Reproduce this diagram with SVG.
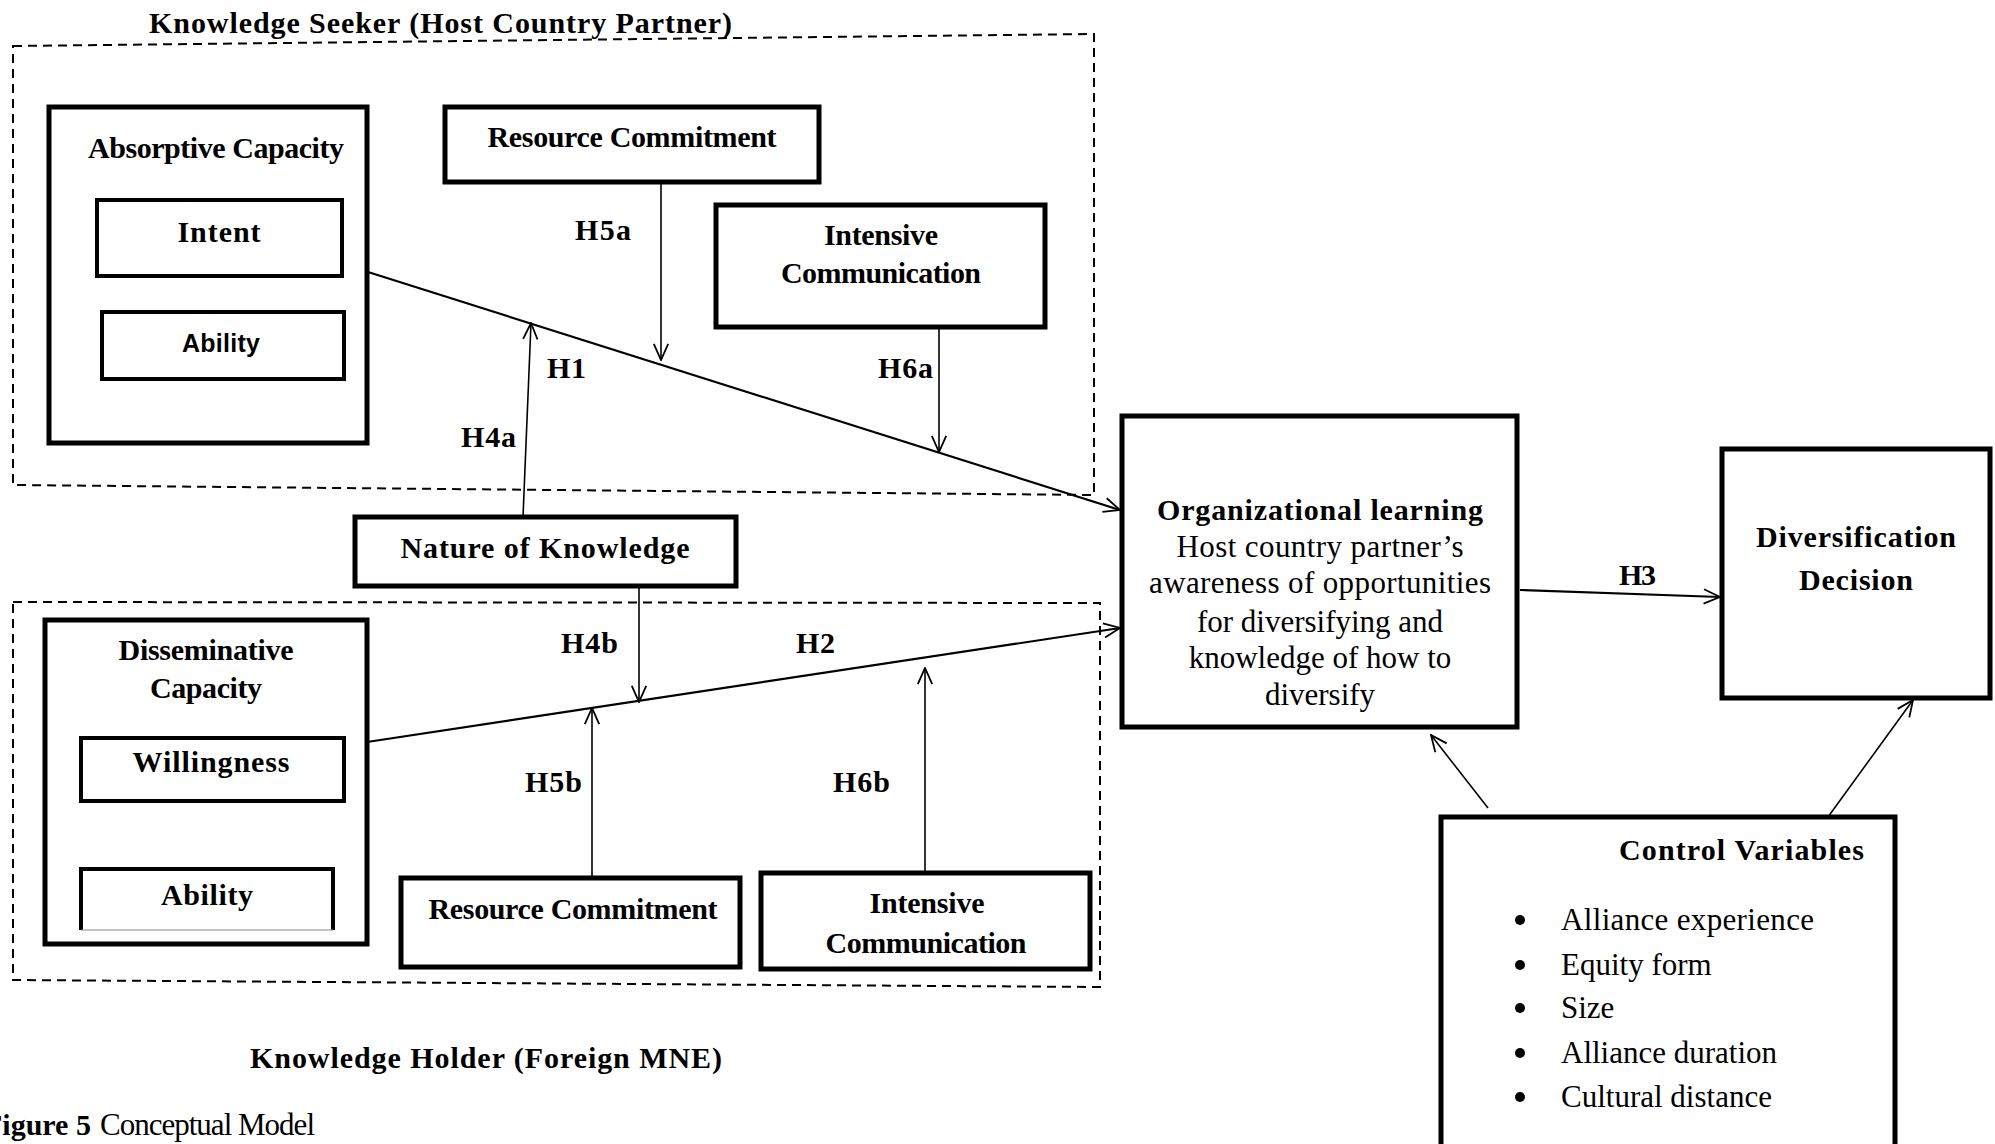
<svg xmlns="http://www.w3.org/2000/svg" width="1995" height="1144" viewBox="0 0 1995 1144">
<style>
.box{fill:#fff;stroke:#000;stroke-width:5}
.ibox{fill:#fff;stroke:#000;stroke-width:4}
.dash{fill:none;stroke:#000;stroke-width:2;stroke-dasharray:9 6}
.b{font-family:"Liberation Serif","Times New Roman",serif;font-weight:bold;font-size:30px;fill:#000}
.r{font-family:"Liberation Serif","Times New Roman",serif;font-size:31px;fill:#000}
.s{font-family:"Liberation Sans",Arial,sans-serif;font-weight:bold;font-size:25px;fill:#000}
.m{text-anchor:middle}
.main{fill:none;stroke:#000;stroke-width:2.2;marker-end:url(#arr)}
.mod{fill:none;stroke:#000;stroke-width:1.6;marker-end:url(#arr)}
</style>
<defs>
<marker id="arr" viewBox="0 0 20 20" refX="19" refY="10" markerWidth="18" markerHeight="18" markerUnits="userSpaceOnUse" orient="auto">
<path d="M1,2 L19,10 L1,18" fill="none" stroke="#000" stroke-width="2"/>
</marker>
</defs>
<rect width="1995" height="1144" fill="#fff"/>

<g id="seeker-region">
<path class="dash" d="M13,46 L1094,34 L1094,495 L13,485 Z"/>
<text class="b" x="149" y="33" textLength="583">Knowledge Seeker (Host Country Partner)</text>
</g>
<g id="holder-region">
<path class="dash" d="M13,602 L1100,603 L1100,987 L13,980 Z"/>
<text class="b" x="250" y="1068" textLength="472">Knowledge Holder (Foreign MNE)</text>
</g>

<g id="absorptive-capacity">
<rect class="box" x="49" y="107" width="318" height="336"/>
<text class="b m" x="216" y="158" font-size="28" textLength="256">Absorptive Capacity</text>
</g>
<g id="intent">
<rect class="ibox" x="97" y="200" width="245" height="76"/>
<text class="b m" x="219" y="242" textLength="83">Intent</text>
</g>
<g id="ability-seeker">
<rect class="ibox" x="102" y="312" width="242" height="67"/>
<text class="s m" x="221" y="352" textLength="78">Ability</text>
</g>
<g id="resource-commitment-seeker">
<rect class="box" x="445" y="107" width="374" height="75"/>
<text class="b m" x="632" y="147" textLength="289">Resource Commitment</text>
</g>
<g id="intensive-communication-seeker">
<rect class="box" x="716" y="205" width="329" height="122"/>
<text class="b m" x="881" y="245" textLength="114">Intensive</text>
<text class="b m" x="881" y="283" textLength="200">Communication</text>
</g>
<g id="nature-of-knowledge">
<rect class="box" x="355" y="517" width="381" height="69"/>
<text class="b m" x="545" y="558" textLength="289">Nature of Knowledge</text>
</g>
<g id="disseminative-capacity">
<rect class="box" x="45" y="620" width="322" height="324"/>
<text class="b m" x="206" y="660" textLength="175">Disseminative</text>
<text class="b m" x="206" y="698" textLength="112">Capacity</text>
</g>
<g id="willingness">
<rect class="ibox" x="81" y="738" width="263" height="63"/>
<text class="b m" x="211" y="772" textLength="157">Willingness</text>
</g>
<g id="ability-holder">
<path d="M81,930 L81,869 L333,869 L333,930" fill="#fff" stroke="#000" stroke-width="4"/>
<line x1="81" y1="930" x2="333" y2="930" stroke="#888" stroke-width="1"/>
<text class="b m" x="207" y="905" textLength="92">Ability</text>
</g>
<g id="resource-commitment-holder">
<rect class="box" x="401" y="878" width="339" height="89"/>
<text class="b m" x="573" y="919" textLength="289">Resource Commitment</text>
</g>
<g id="intensive-communication-holder">
<rect class="box" x="761" y="873" width="329" height="96"/>
<text class="b m" x="927" y="913" textLength="115">Intensive</text>
<text class="b m" x="926" y="953" textLength="201">Communication</text>
</g>
<g id="organizational-learning">
<rect class="box" x="1122" y="416" width="395" height="311"/>
<text class="b m" x="1320" y="520" textLength="326">Organizational learning</text>
<text class="r m" x="1320" y="557" textLength="287">Host country partner’s</text>
<text class="r m" x="1320" y="593" textLength="342">awareness of opportunities</text>
<text class="r m" x="1320" y="632">for diversifying and</text>
<text class="r m" x="1320" y="668">knowledge of how to</text>
<text class="r m" x="1320" y="705">diversify</text>
</g>
<g id="diversification-decision">
<rect class="box" x="1722" y="449" width="268" height="249"/>
<text class="b m" x="1856" y="547" textLength="200">Diversification</text>
<text class="b m" x="1856" y="590" textLength="114">Decision</text>
</g>
<g id="control-variables">
<rect class="box" x="1441" y="817" width="454" height="345"/>
<text class="b" x="1619" y="860" textLength="245">Control Variables</text>
<g fill="#000">
<circle cx="1520" cy="920" r="5"/>
<circle cx="1520" cy="965" r="5"/>
<circle cx="1520" cy="1008" r="5"/>
<circle cx="1520" cy="1053" r="5"/>
<circle cx="1520" cy="1097" r="5"/>
</g>
<text class="r" x="1561" y="930" textLength="253">Alliance experience</text>
<text class="r" x="1561" y="975">Equity form</text>
<text class="r" x="1561" y="1018">Size</text>
<text class="r" x="1561" y="1063">Alliance duration</text>
<text class="r" x="1561" y="1107">Cultural distance</text>
</g>

<g id="connectors">
<line class="main" x1="368" y1="272" x2="1120" y2="510"/>
<line class="main" x1="367" y1="742" x2="1120" y2="628"/>
<line class="mod" x1="661" y1="182" x2="661" y2="360"/>
<line class="mod" x1="939" y1="327" x2="939" y2="452"/>
<line class="mod" x1="523" y1="517" x2="531" y2="323"/>
<line class="mod" x1="639" y1="586" x2="639" y2="702"/>
<line class="mod" x1="592" y1="878" x2="592" y2="708"/>
<line class="mod" x1="925" y1="873" x2="925" y2="668"/>
<line class="main" x1="1520" y1="590" x2="1720" y2="597"/>
<line class="mod" x1="1488" y1="808" x2="1431" y2="735"/>
<line class="mod" x1="1828" y1="817" x2="1913" y2="700"/>
</g>
<g id="connector-labels">
<text class="b" x="575" y="240" textLength="56">H5a</text>
<text class="b" x="547" y="378" textLength="39">H1</text>
<text class="b" x="461" y="447" textLength="55">H4a</text>
<text class="b" x="878" y="378" textLength="55">H6a</text>
<text class="b" x="561" y="653" textLength="57">H4b</text>
<text class="b" x="796" y="653" textLength="39">H2</text>
<text class="b" x="525" y="792" textLength="57">H5b</text>
<text class="b" x="833" y="792" textLength="57">H6b</text>
<text class="b" x="1619" y="585" textLength="37">H3</text>
</g>

<g id="caption">
<text class="b" x="-16" y="1135">Figure 5</text>
<text class="r" x="100" y="1135" font-size="29" textLength="215">Conceptual Model</text>
</g>
</svg>
